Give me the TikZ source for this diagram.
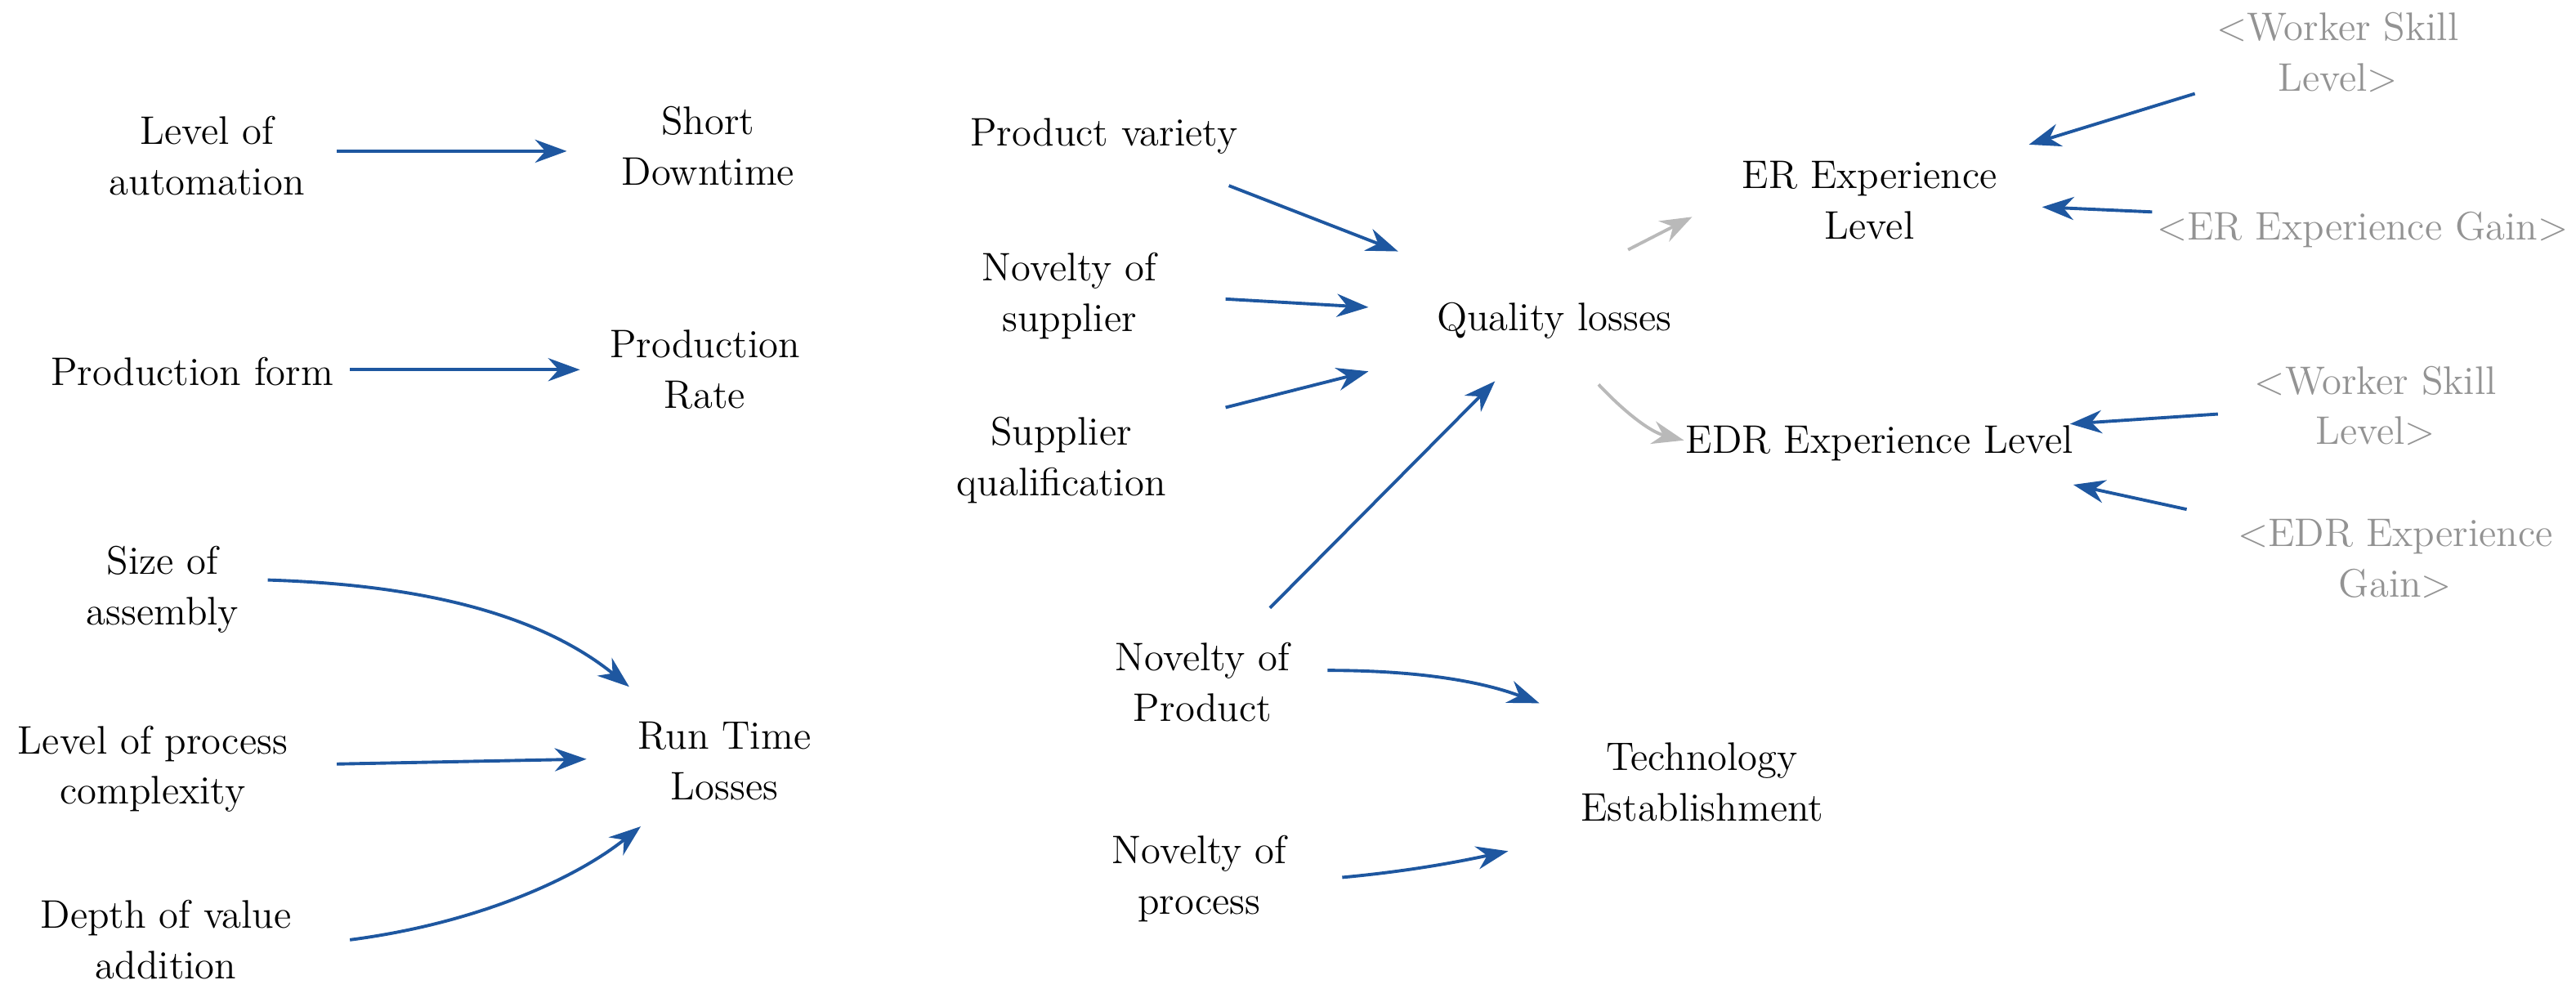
\documentclass[tikz,border=0pt]{standalone}
\usetikzlibrary{arrows.meta}
\begin{document}
\begin{tikzpicture}[x=0.02cm,y=-0.02cm,
  every node/.style={font=\fontsize{13.8}{17.5}\selectfont,align=center},
  g/.style={text=gray!85},
  arr/.style={draw={rgb,255:red,30;green,87;blue,160},line width=1.1pt,-{Stealth[length=11pt,width=8pt]}},
  garr/.style={draw=gray!55,line width=1.1pt,-{Stealth[length=11pt,width=8pt]}}]
\useasboundingbox (0,0) rectangle (1568,607);
\node (la) at (126,95) {Level of\\automation};
\node (sd) at (431,89) {Short\\Downtime};
\node (pf) at (117,226) {Production form};
\node (pr) at (429,225) {Production\\Rate};
\node (sa) at (99,359) {Size of\\assembly};
\node (rt) at (441,463) {Run Time\\Losses};
\node (lp) at (93,468) {Level of process\\complexity};
\node (dv) at (101,572) {Depth of value\\addition};
\node (pv) at (672,83) {Product variety};
\node (ns) at (651,180) {Novelty of\\supplier};
\node (sq) at (646,280) {Supplier\\qualification};
\node (ql) at (946,195) {Quality losses};
\node (np) at (732,415) {Novelty of\\Product};
\node (te) at (1036,476) {Technology\\Establishment};
\node (npr) at (730,535) {Novelty of\\process};
\node (er) at (1138,122) {ER Experience\\Level};
\node[g] (ws1) at (1423,32) {<Worker Skill\\Level>};
\node[g] (eg) at (1438,140) {<ER Experience Gain>};
\node (edr) at (1144,270) {EDR Experience Level};
\node[g] (ws2) at (1446,247) {<Worker Skill\\Level>};
\node[g] (edg) at (1458,340) {<EDR Experience\\Gain>};
\coordinate (a1) at (205,92); \coordinate (b1) at (345,92);
\coordinate (a2) at (213,225); \coordinate (b2) at (353,225);
\coordinate (a3) at (163,353); \coordinate (b3) at (383,418);
\coordinate (a4) at (205,465); \coordinate (b4) at (357,462);
\coordinate (a5) at (213,572); \coordinate (b5) at (390,503);
\coordinate (a6) at (748,113); \coordinate (b6) at (851,153);
\coordinate (a7) at (746,182); \coordinate (b7) at (833,187);
\coordinate (a8) at (746,248); \coordinate (b8) at (833,226);
\coordinate (a9) at (773,370); \coordinate (b9) at (910,232);
\coordinate (a10) at (808,408); \coordinate (b10) at (937,428);
\coordinate (a11) at (817,534); \coordinate (b11) at (918,518);
\coordinate (a12) at (991,152); \coordinate (b12) at (1030,132);
\coordinate (a13) at (973,234); \coordinate (b13) at (1025,268);
\coordinate (a14) at (1336,57); \coordinate (b14) at (1235,88);
\coordinate (a15) at (1310,129); \coordinate (b15) at (1243,126);
\coordinate (a16) at (1350,252); \coordinate (b16) at (1260,258);
\coordinate (a17) at (1331,310); \coordinate (b17) at (1262,295);
\draw[arr] (a1) -- (b1);
\draw[arr] (a2) -- (b2);
\draw[arr] (a3) .. controls (260,356) and (330,375) .. (b3);
\draw[arr] (a4) -- (b4);
\draw[arr] (a5) .. controls (290,562) and (350,535) .. (b5);
\draw[arr] (a6) -- (b6);
\draw[arr] (a7) -- (b7);
\draw[arr] (a8) -- (b8);
\draw[arr] (a9) -- (b9);
\draw[arr] (a10) .. controls (860,408) and (900,414) .. (b10);
\draw[arr] (a11) .. controls (860,530) and (890,524) .. (b11);
\draw[garr] (a12) -- (b12);
\draw[garr] (a13) .. controls (990,252) and (1005,263) .. (b13);
\draw[arr] (a14) -- (b14);
\draw[arr] (a15) -- (b15);
\draw[arr] (a16) -- (b16);
\draw[arr] (a17) -- (b17);
\end{tikzpicture}
\end{document}
